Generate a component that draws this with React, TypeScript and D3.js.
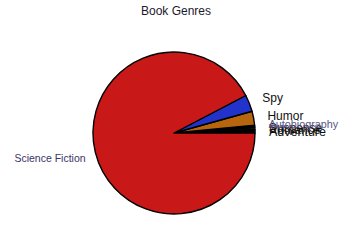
import React from "react";
import * as d3 from "d3";

const genres = ["Adventure", "Romance", "Suspense", "History", "Autobiography", "Humor", "Spy", "Science Fiction"];
const counts = [3, 2, 3, 1, 2, 20, 24, 663];
const colors = ["#0a0a0a", "#141414", "#1a1a1a", "#2a2418", "#2233cc", "#b8660e", "#2233cc", "#c81818"];
const labelSizes = [12.5, 12, 12, 6, 10.8, 12, 12, 10.5];
const labelColors = ["#111", "#111", "#111", "#4a4478", "#5a5488", "#111", "#111", "#3a3468"];

const W = 350;
const H = 250;
const cx = 174;
const cy = 133;
const R = 81;

export default function App() {
  const data = genres.map((g, i) => ({ genre: g, count: counts[i], i }));
  // start at 3 o'clock and run counterclockwise
  const pie = d3
    .pie<any>()
    .value((d) => d.count)
    .sort(null)
    .startAngle(Math.PI / 2)
    .endAngle(Math.PI / 2 - 2 * Math.PI);
  const arcs = pie(data);
  const arc = d3.arc<any>().innerRadius(0).outerRadius(R);

  return (
    <svg
      width={W}
      height={H}
      style={{ position: "absolute", left: 0, top: 0, fontFamily: "Liberation Sans, Arial, sans-serif" }}
    >
      <rect width={W} height={H} fill="#fff" />
      <text x={176} y={15} textAnchor="middle" fontSize={12} fill="#1a1a2e">
        Book Genres
      </text>
      <g transform={`translate(${cx},${cy})`}>
        {arcs.map((a) => (
          <path key={a.data.genre} d={arc(a) as string} fill={colors[a.data.i]} stroke="#000" strokeWidth={1.4} strokeLinejoin="round" />
        ))}
        {arcs.map((a) => {
          const mid = (a.startAngle + a.endAngle) / 2;
          const right = Math.sin(mid) > 0;
          const lr = right ? R + 14 : R + 10;
          const x = Math.sin(mid) * lr;
          const y = -Math.cos(mid) * lr;
          return (
            <text
              key={"l" + a.data.genre}
              x={x}
              y={y}
              dy={right ? "0.35em" : "0.65em"}
              textAnchor={right ? "start" : "end"}
              fontSize={labelSizes[a.data.i]}
              fill={labelColors[a.data.i]}
            >
              {a.data.genre}
            </text>
          );
        })}
      </g>
    </svg>
  );
}
